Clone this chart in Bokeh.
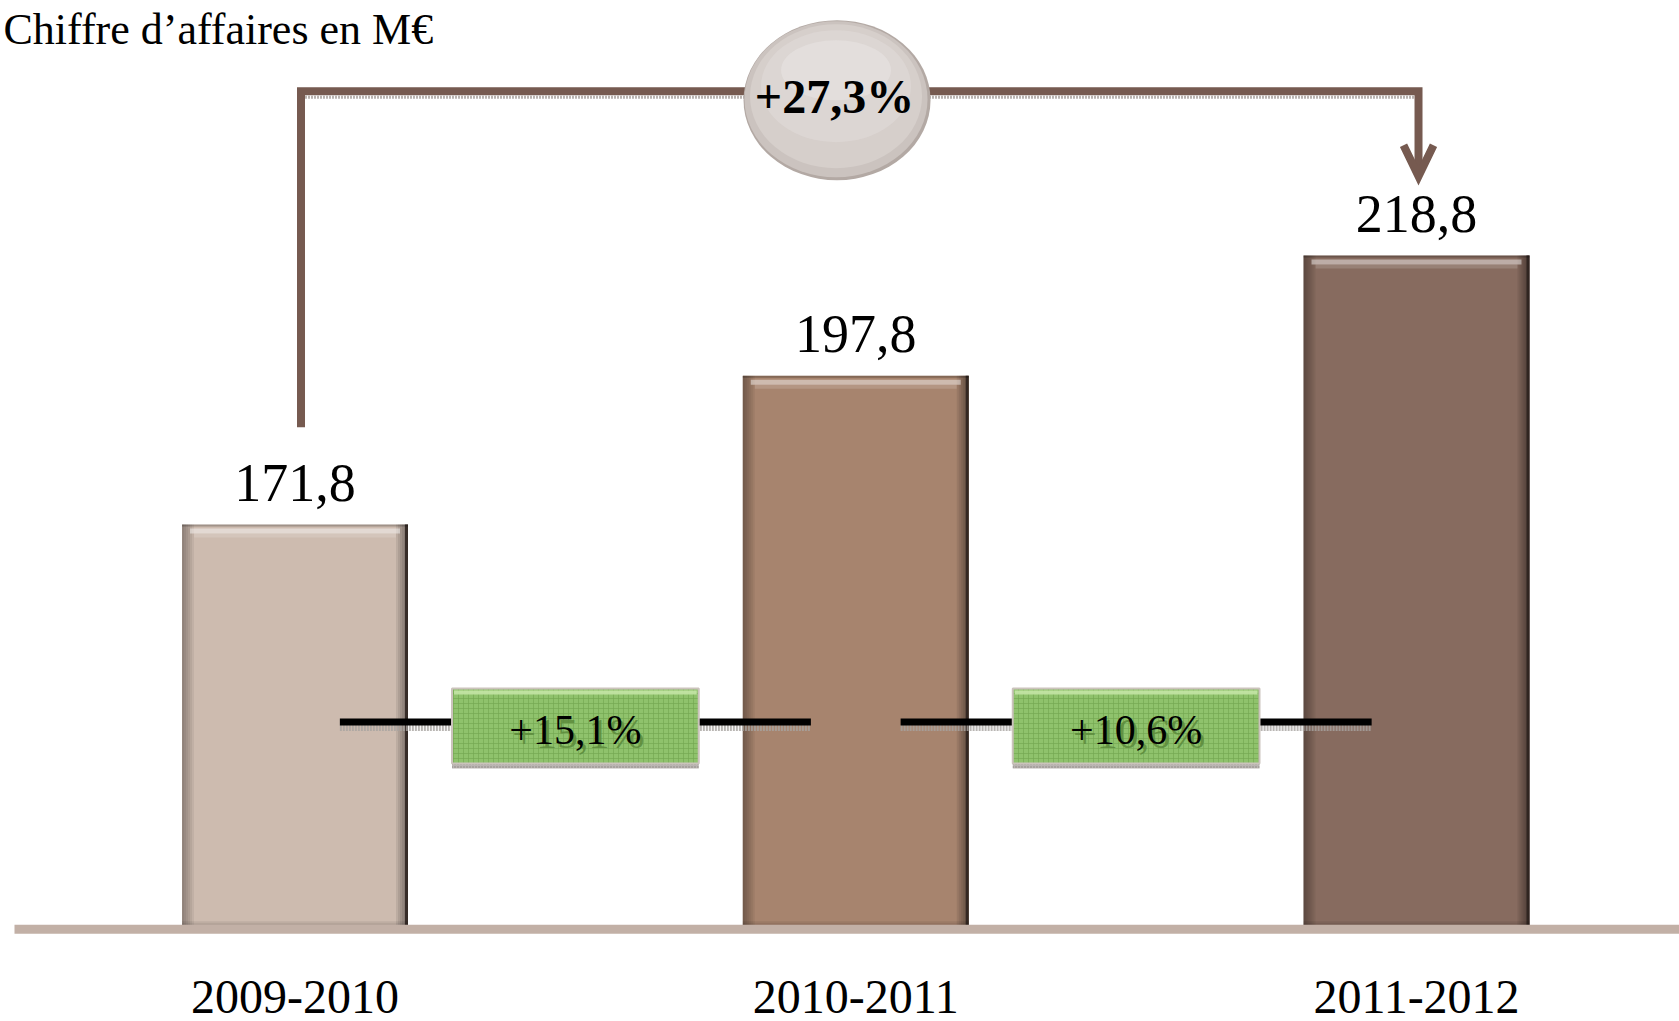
from bokeh.plotting import figure
from bokeh.models import Range1d, ColumnDataSource, Label
from bokeh.core.properties import value
from bokeh.embed import file_html
from bokeh.resources import INLINE

# ---------------- data ----------------
categories = ["2009-2010", "2010-2011", "2011-2012"]
revenue = [171.8, 197.8, 218.8]
value_labels = ["171,8", "197,8", "218,8"]
growth_labels = ["+15,1%", "+10,6%"]
total_growth_label = "+27,3%"
title_text = "Chiffre d\u2019affaires en M\u20ac"
bar_colors = ["#CDBBAF", "#A7846E", "#876B5F"]

# ---------------- layout / scales ----------------
W, H = 1679, 1021
X0, X1 = -0.5252, 2.4690
Y0, Y1 = 84.96, 263.36
PX = (X1 - X0) / W          # one pixel in x data units
PY = (Y1 - Y0) / H          # one pixel in y data units
BASE = 101.1
BAR_W = 0.403
SERIF = "Liberation Serif"

p = figure(width=W, height=H, x_range=Range1d(X0, X1), y_range=Range1d(Y0, Y1),
           output_backend="svg", toolbar_location=None, min_border=0,
           x_axis_location=None, y_axis_location=None,
           outline_line_color=None, background_fill_color="white",
           border_fill_color="white")
p.grid.visible = False

xs = list(range(len(categories)))
lefts = [x - BAR_W / 2 for x in xs]
rights = [x + BAR_W / 2 for x in xs]
n = len(xs)

# ---------------- bars with bevel ----------------
src = ColumnDataSource(dict(left=lefts, right=rights, top=revenue,
                            bottom=[BASE] * n, color=bar_colors))
p.quad(left="left", right="right", top="top", bottom="bottom",
       fill_color="color", line_color=None, source=src)

for k in range(6):
    wpx = 12 - 2 * k
    p.quad(left=lefts, right=[l + wpx * PX for l in lefts], top=revenue,
           bottom=[BASE] * n, fill_color="black", fill_alpha=0.055, line_color=None)
for k in range(6):
    wpx = 12 - 2 * k
    p.quad(left=[r - wpx * PX for r in rights], right=rights, top=revenue,
           bottom=[BASE] * n, fill_color="black", fill_alpha=0.08, line_color=None)
p.quad(left=[r - 3 * PX for r in rights], right=rights, top=revenue,
       bottom=[BASE] * n, fill_color="#2a201c", fill_alpha=0.85, line_color=None)
for k in range(4):
    hpx = 8 - 2 * k
    p.quad(left=lefts, right=rights, top=[BASE + hpx * PY] * n,
           bottom=[BASE] * n, fill_color="black", fill_alpha=0.07, line_color=None)
p.quad(left=lefts, right=rights, top=revenue, bottom=[v - 2 * PY for v in revenue],
       fill_color="black", fill_alpha=0.22, line_color=None)
p.quad(left=[l + 8 * PX for l in lefts], right=[r - 8 * PX for r in rights],
       top=[v - 4 * PY for v in revenue], bottom=[v - 9 * PY for v in revenue],
       fill_color="white", fill_alpha=0.45, line_color=None)
p.quad(left=[l + 12 * PX for l in lefts], right=[r - 12 * PX for r in rights],
       top=[v - 9 * PY for v in revenue], bottom=[v - 13 * PY for v in revenue],
       fill_color="white", fill_alpha=0.15, line_color=None)

# ---------------- baseline ----------------
p.segment(x0=[X0 + 14 * PX], y0=[BASE], x1=[X1], y1=[BASE],
          line_color="#C2B0A6", line_width=9)

# ---------------- connector with arrow ----------------
CONN_COLOR = "#765A50"
top_y = revenue[0] + 75.7
start_y = revenue[0] + 17.0
tip_y = revenue[2] + 13.5
cx0 = xs[0] + 6 * PX
cx1 = xs[-1] + 2 * PX
p.line(x=[cx0 + 4 * PX, cx1], y=[top_y - 6 * PY, top_y - 6 * PY],
       line_color="#a8a09c", line_width=3, line_dash="2 1", line_alpha=0.8)
p.line(x=[cx0, cx0, cx1, cx1], y=[start_y, top_y, top_y, tip_y + 6 * PY],
       line_color=CONN_COLOR, line_width=8, line_join="miter")
p.line(x=[cx1 - 15 * PX, cx1, cx1 + 15 * PX],
       y=[tip_y + 33 * PY, tip_y + 2 * PY, tip_y + 33 * PY],
       line_color=CONN_COLOR, line_width=8, line_join="miter")

# ---------------- badge ----------------
BADGE_X = 0.9666
BADGE_Y = top_y - 1.56
p.ellipse(x=[BADGE_X], y=[BADGE_Y], width=[187 * PX], height=[160 * PY],
          fill_color="#b3a9a4", line_color=None)
p.ellipse(x=[BADGE_X - 1 * PX], y=[BADGE_Y + 1 * PY], width=[183 * PX], height=[156 * PY],
          fill_color="#cbc3bf", line_color=None)
p.ellipse(x=[BADGE_X - 1 * PX], y=[BADGE_Y + 4 * PY], width=[172 * PX], height=[144 * PY],
          fill_color="#d6cfcb", line_color=None)
p.ellipse(x=[BADGE_X - 1 * PX], y=[BADGE_Y + 14 * PY], width=[150 * PX], height=[112 * PY],
          fill_color="#ddd7d4", fill_alpha=0.8, line_color=None)
p.ellipse(x=[BADGE_X - 1 * PX], y=[BADGE_Y + 30 * PY], width=[110 * PX], height=[60 * PY],
          fill_color="#e6e1df", fill_alpha=0.7, line_color=None)
p.text(x=[BADGE_X - 2.5 * PX], y=[BADGE_Y + 4 * PY], text=[total_growth_label],
       text_font=value(SERIF), text_font_style="bold", text_font_size="48px",
       text_align="center", text_baseline="middle", text_color="black")

# ---------------- growth markers ----------------
mids = [(xs[i] + xs[i + 1]) / 2 for i in range(n - 1)]
GY = 137.29   # level of the growth marker lines
p.segment(x0=[m - 0.42 for m in mids], y0=[GY - 6 * PY] * 2,
          x1=[m + 0.42 for m in mids], y1=[GY - 6 * PY] * 2,
          line_color="#a8a4a0", line_width=6, line_alpha=0.8, line_dash="2 1")
p.segment(x0=[m - 0.42 for m in mids], y0=[GY] * 2,
          x1=[m + 0.42 for m in mids], y1=[GY] * 2,
          line_color="black", line_width=7)
BOX_HW = 0.22
box_top = GY + 33.5 * PY
box_bot = GY - 41.5 * PY
p.quad(left=[m - BOX_HW for m in mids], right=[m + BOX_HW for m in mids],
       top=[box_bot] * 2, bottom=[box_bot - 5 * PY] * 2,
       fill_color="#a9a39f", fill_alpha=0.8, line_color=None,
       hatch_pattern="dot", hatch_color="#888380", hatch_scale=3)
p.quad(left=[m - BOX_HW for m in mids], right=[m + BOX_HW for m in mids],
       top=[box_top] * 2, bottom=[box_bot] * 2,
       fill_color="#8FC26C", line_color="#CBC3BC", line_width=2,
       hatch_pattern="+", hatch_color="#75a853", hatch_scale=5, hatch_weight=1,
       hatch_alpha=0.7)
p.quad(left=[m - BOX_HW + 2 * PX for m in mids], right=[m + BOX_HW - 2 * PX for m in mids],
       top=[box_top - 2 * PY] * 2, bottom=[box_top - 6 * PY] * 2,
       fill_color="#c4e5a6", line_color=None, fill_alpha=0.9)
p.text(x=[m + 3 * PX for m in mids], y=[GY - 11.5 * PY] * 2, text=growth_labels,
       text_font=value(SERIF), text_font_size="42px", text_align="center",
       text_baseline="middle", text_color="#5b8a3b", text_alpha=0.85)
p.text(x=mids, y=[GY - 7.5 * PY] * 2, text=growth_labels,
       text_font=value(SERIF), text_font_size="42px", text_align="center",
       text_baseline="middle", text_color="black")

# ---------------- value labels ----------------
p.text(x=xs, y=[v + 41.5 * PY for v in revenue], text=value_labels,
       text_font=value(SERIF), text_font_size="54px", text_align="center",
       text_baseline="middle", text_color="black")

# ---------------- category labels ----------------
p.text(x=xs, y=[Y0 + 25 * PY] * n, text=categories,
       text_font=value(SERIF), text_font_size="48px", text_align="center",
       text_baseline="middle", text_color="black")

# ---------------- title ----------------
p.add_layout(Label(x=3, y=H - 28.5, x_units="screen", y_units="screen", text=title_text,
                   text_font=SERIF, text_font_size="44px", text_baseline="middle",
                   text_color="black"))

open("out.html", "w").write(file_html(p, INLINE))
